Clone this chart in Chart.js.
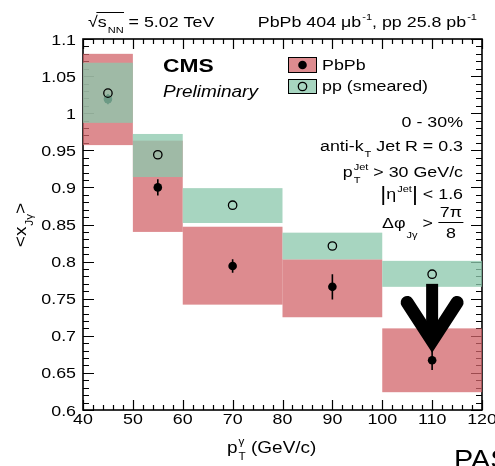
<!DOCTYPE html>
<html>
<head>
<meta charset="utf-8">
<script src="https://cdn.jsdelivr.net/npm/chart.js@4.4.1/dist/chart.umd.min.js"></script>
<style>
  body { margin: 0; background: #fff; }
  canvas { display: block; }
</style>
</head>
<body>
<canvas id="chart" width="495" height="466"></canvas>
<script>
/**************************************************
 * DATA
 **************************************************/
const binLow    = [40, 50, 60, 80, 100];
const binHigh   = [50, 60, 80, 100, 120];
const binCenter = [45, 55, 70, 90, 110];

const pbpbMean    = [1.019, 0.900, 0.794, 0.766, 0.667];
const pbpbStat    = [0.007, 0.011, 0.009, 0.017, 0.013];
const pbpbSysLow  = [0.957, 0.840, 0.742, 0.725, 0.624];
const pbpbSysHigh = [1.080, 0.963, 0.847, 0.803, 0.710];

const ppMean    = [1.027, 0.944, 0.876, 0.821, 0.783];
const ppSysLow  = [0.987, 0.914, 0.852, 0.803, 0.766];
const ppSysHigh = [1.068, 0.972, 0.899, 0.839, 0.801];

const xTickLabels = [40, 50, 60, 70, 80, 90, 100, 110, 120];
const yTickLabels = [0.6, 0.65, 0.7, 0.75, 0.8, 0.85, 0.9, 0.95, 1, 1.05, 1.1];

// upper-limit arrow on the last PbPb bin
const arrowX = 110;
const arrowTop = 0.770;
const arrowTip = 0.677;
const arrowArmY = 0.745;
const arrowArmDx = 5;

/**************************************************
 * STYLE
 **************************************************/
const FONT = '"Liberation Sans", Arial, Helvetica, sans-serif';
const STRETCH = 1.15;
const RED = "rgba(210,100,106,0.75)";
const GREEN = "rgba(141,201,173,0.77)";

function setFont(ctx, size, style) {
  ctx.font = (style ? style + " " : "") + size + "px " + FONT;
}

// draws text pieces with sub / superscripts; each piece: {t} or {sub, sup}
function richText(ctx, parts, x, y, align, size, style) {
  const small = size * 0.62;
  const widths = parts.map(p => {
    if (p.t !== undefined) {
      setFont(ctx, p.size || size, style);
      return ctx.measureText(p.t).width * STRETCH;
    }
    setFont(ctx, small, style);
    const a = p.sub ? ctx.measureText(p.sub).width : 0;
    const b = p.sup ? ctx.measureText(p.sup).width : 0;
    return Math.max(a, b) * STRETCH + 1;
  });
  const total = widths.reduce((a, b) => a + b, 0);
  let cx = align === "right" ? x - total : align === "center" ? x - total / 2 : x;
  ctx.textAlign = "left";
  ctx.textBaseline = "alphabetic";
  parts.forEach((p, i) => {
    if (p.t !== undefined) {
      setFont(ctx, p.size || size, style);
      ctx.save(); ctx.translate(cx, y + (p.dy || 0)); ctx.scale(STRETCH, 1);
      ctx.fillText(p.t, 0, 0); ctx.restore();
    } else {
      setFont(ctx, small, style);
      if (p.sub) {
        ctx.save(); ctx.translate(cx + 1, y + (p.subDy || size * 0.4)); ctx.scale(STRETCH, 1);
        ctx.fillText(p.sub, 0, 0); ctx.restore();
      }
      if (p.sup) {
        ctx.save(); ctx.translate(cx + 1, y - size * 0.48); ctx.scale(STRETCH, 1);
        ctx.fillText(p.sup, 0, 0); ctx.restore();
      }
    }
    cx += widths[i];
  });
  return total;
}

/**************************************************
 * PLUGIN: frame, ticks, boxes, error bars, labels
 **************************************************/
const rootStyle = {
  id: "rootStyle",

  beforeDatasetsDraw(chart) {
    const ctx = chart.ctx;
    const { left, right, top, bottom } = chart.chartArea;
    const xs = chart.scales.x, ys = chart.scales.y;
    ctx.save();
    ctx.strokeStyle = "#000";
    ctx.lineWidth = 1.2;
    ctx.beginPath();
    for (let v = 40; v <= 120; v += 2) {
      const px = Math.round(xs.getPixelForValue(v)) + 0.5;
      const len = v % 10 === 0 ? 10 : 5;
      ctx.moveTo(px, bottom); ctx.lineTo(px, bottom - len);
      ctx.moveTo(px, top); ctx.lineTo(px, top + len);
    }
    for (let i = 0; i <= 50; i++) {
      const v = 0.6 + i * 0.01;
      const py = Math.round(ys.getPixelForValue(v)) + 0.5;
      const len = i % 5 === 0 ? 11 : 6;
      ctx.moveTo(left, py); ctx.lineTo(left + len, py);
      ctx.moveTo(right, py); ctx.lineTo(right - len, py);
    }
    ctx.stroke();
    ctx.lineWidth = 1.6;
    ctx.strokeRect(left, top, right - left, bottom - top);
    ctx.restore();
  },

  beforeDatasetDraw(chart, args) {
    const ctx = chart.ctx;
    const xs = chart.scales.x, ys = chart.scales.y;
    ctx.save();
    if (args.index === 0) {
      ctx.fillStyle = RED;
      binLow.forEach((lo, i) => {
        const x0 = xs.getPixelForValue(lo), x1 = xs.getPixelForValue(binHigh[i]);
        const y0 = ys.getPixelForValue(pbpbSysHigh[i]), y1 = ys.getPixelForValue(pbpbSysLow[i]);
        ctx.fillRect(x0, y0, x1 - x0, y1 - y0);
      });
      ctx.strokeStyle = "#000";
      ctx.lineWidth = 1.6;
      ctx.beginPath();
      binCenter.forEach((c, i) => {
        const px = xs.getPixelForValue(c);
        ctx.moveTo(px, ys.getPixelForValue(pbpbMean[i] + pbpbStat[i]));
        ctx.lineTo(px, ys.getPixelForValue(pbpbMean[i] - pbpbStat[i]));
      });
      ctx.stroke();
    }
    if (args.index === 1) {
      ctx.fillStyle = GREEN;
      binLow.forEach((lo, i) => {
        const x0 = xs.getPixelForValue(lo), x1 = xs.getPixelForValue(binHigh[i]);
        const y0 = ys.getPixelForValue(ppSysHigh[i]), y1 = ys.getPixelForValue(ppSysLow[i]);
        ctx.fillRect(x0, y0, x1 - x0, y1 - y0);
      });
    }
    ctx.restore();
  },

  afterDatasetsDraw(chart) {
    const ctx = chart.ctx;
    const { left, right, top, bottom } = chart.chartArea;
    const xs = chart.scales.x, ys = chart.scales.y;
    ctx.save();
    ctx.fillStyle = "#000";
    ctx.strokeStyle = "#000";

    // arrow
    const ax = xs.getPixelForValue(arrowX);
    const aTop = ys.getPixelForValue(arrowTop);
    const aTip = ys.getPixelForValue(arrowTip);
    const armY = ys.getPixelForValue(arrowArmY);
    const armDx = xs.getPixelForValue(arrowX + arrowArmDx) - ax;
    const w = 13;
    let vy = aTip - 10;
    for (let k = 0; k < 6; k++) {
      const th = Math.atan(armDx / (vy - armY));
      vy = aTip - (w / 2) / Math.sin(th);
    }
    ctx.lineWidth = 12;
    ctx.lineCap = "butt";
    ctx.beginPath(); ctx.moveTo(ax, aTop); ctx.lineTo(ax, vy - 5); ctx.stroke();
    ctx.lineWidth = w;
    ctx.lineCap = "round";
    ctx.lineJoin = "miter";
    ctx.beginPath();
    ctx.moveTo(ax - armDx, armY); ctx.lineTo(ax, vy); ctx.lineTo(ax + armDx, armY);
    ctx.stroke();

    // tick labels
    const TS = 15.5;
    xTickLabels.forEach(v => richText(ctx, [{ t: String(v) }], xs.getPixelForValue(v), bottom + 14, "center", TS));
    yTickLabels.forEach(v => richText(ctx, [{ t: String(v) }], left - 7, ys.getPixelForValue(v) + 5.5, "right", TS));

    // axis titles
    richText(ctx, [{ t: "p" }, { sub: "T", sup: "γ" }, { t: " (GeV/c)" }], 227, 453, "left", 16.5);
    ctx.save();
    ctx.translate(26, 225);
    ctx.rotate(-Math.PI / 2);
    richText(ctx, [{ t: "<x" }, { sub: "Jγ" }, { t: ">" }], 0, 0, "center", 16.5);
    ctx.restore();

    // header
    const HS = 15.5;
    const sqW = richText(ctx, [{ t: "√" }], 88, 27, "left", HS);
    const sW = richText(ctx, [{ t: "s" }, { sub: "NN" }], 88 + sqW, 27, "left", HS);
    ctx.lineWidth = 1;
    ctx.beginPath(); ctx.moveTo(88 + sqW - 1, 12.5); ctx.lineTo(88 + sqW + sW, 12.5); ctx.stroke();
    richText(ctx, [{ t: " = 5.02 TeV" }], 88 + sqW + sW, 27, "left", HS);
    richText(ctx, [{ t: "PbPb 404 μb" }, { sup: "-1" }, { t: ", pp 25.8 pb" }, { sup: "-1" }], 477, 27, "right", HS);

    // CMS Preliminary
    ctx.save();
    ctx.translate(163, 72); ctx.scale(1.2 / STRETCH, 1);
    richText(ctx, [{ t: "CMS" }], 0, 0, "left", 19, "bold");
    ctx.restore();
    richText(ctx, [{ t: "Preliminary" }], 163, 97, "left", 16.5, "italic");

    // legend
    ctx.lineWidth = 1;
    ctx.fillStyle = "#fff";
    ctx.fillRect(288, 57, 28, 15); ctx.fillRect(288, 79, 28, 14);
    ctx.fillStyle = RED; ctx.fillRect(288, 57, 28, 15);
    ctx.fillStyle = GREEN; ctx.fillRect(288, 79, 28, 14);
    ctx.strokeRect(288.5, 57.5, 28, 15); ctx.strokeRect(288.5, 79.5, 28, 14);
    ctx.fillStyle = "#000";
    ctx.beginPath(); ctx.arc(302.5, 65, 4.3, 0, Math.PI * 2); ctx.fill();
    ctx.lineWidth = 1.3;
    ctx.beginPath(); ctx.arc(302.5, 86.5, 4.2, 0, Math.PI * 2); ctx.stroke();
    richText(ctx, [{ t: "PbPb" }], 322, 70, "left", 15.5);
    richText(ctx, [{ t: "pp (smeared)" }], 322, 91, "left", 15.5);

    // selection text
    const RS = 15.5, RX = 463;
    richText(ctx, [{ t: "0 - 30%" }], RX, 127, "right", RS);
    richText(ctx, [{ t: "anti-k" }, { sub: "T" }, { t: " Jet R = 0.3" }], RX, 151, "right", RS);
    richText(ctx, [{ t: "p" }, { sub: "T", sup: "Jet" }, { t: " > 30 GeV/c" }], RX, 177, "right", RS);
    richText(ctx, [{ t: "|", size: 20, dy: 2 }, { t: "η" }, { sup: "Jet" }, { t: "|", size: 20, dy: 2 }, { t: " < 1.6" }], RX, 199, "right", RS);
    setFont(ctx, RS);
    const fw = Math.max(ctx.measureText("7π").width, ctx.measureText("8").width) * STRETCH + 2;
    richText(ctx, [{ t: "7π" }], RX - fw / 2, 217, "center", RS);
    richText(ctx, [{ t: "8" }], RX - fw / 2, 238, "center", RS);
    ctx.lineWidth = 1;
    ctx.beginPath(); ctx.moveTo(RX - fw, 222.5); ctx.lineTo(RX, 222.5); ctx.stroke();
    richText(ctx, [{ t: "Δφ" }, { sub: "Jγ", subDy: 10 }, { t: " > " }], RX - fw - 1, 228, "right", RS);

    // PAS (cut at the edge)
    richText(ctx, [{ t: "PAS" }], 454, 468, "left", 25);
    ctx.restore();
  }
};

/**************************************************
 * CHART
 **************************************************/
function drawChart() {
  const ctx = document.getElementById("chart").getContext("2d");
  new Chart(ctx, {
    type: "scatter",
    data: {
      datasets: [
        {
          label: "PbPb",
          data: binCenter.map((x, i) => ({ x, y: pbpbMean[i] })),
          backgroundColor: "#000",
          borderWidth: 0,
          pointRadius: 4.3,
          order: 2
        },
        {
          label: "pp (smeared)",
          data: binCenter.map((x, i) => ({ x, y: ppMean[i] })),
          backgroundColor: "rgba(0,0,0,0)",
          borderColor: "#000",
          borderWidth: 1.3,
          pointRadius: 4.2,
          order: 1
        }
      ]
    },
    options: {
      responsive: false,
      animation: false,
      devicePixelRatio: 1,
      layout: { padding: { left: 83, right: 13, top: 39, bottom: 56 } },
      plugins: {
        legend: { display: false },
        tooltip: { enabled: false }
      },
      scales: {
        x: { type: "linear", min: 40, max: 120, display: false },
        y: { type: "linear", min: 0.6, max: 1.1, display: false }
      }
    },
    plugins: [rootStyle]
  });
}

drawChart();
</script>
</body>
</html>
